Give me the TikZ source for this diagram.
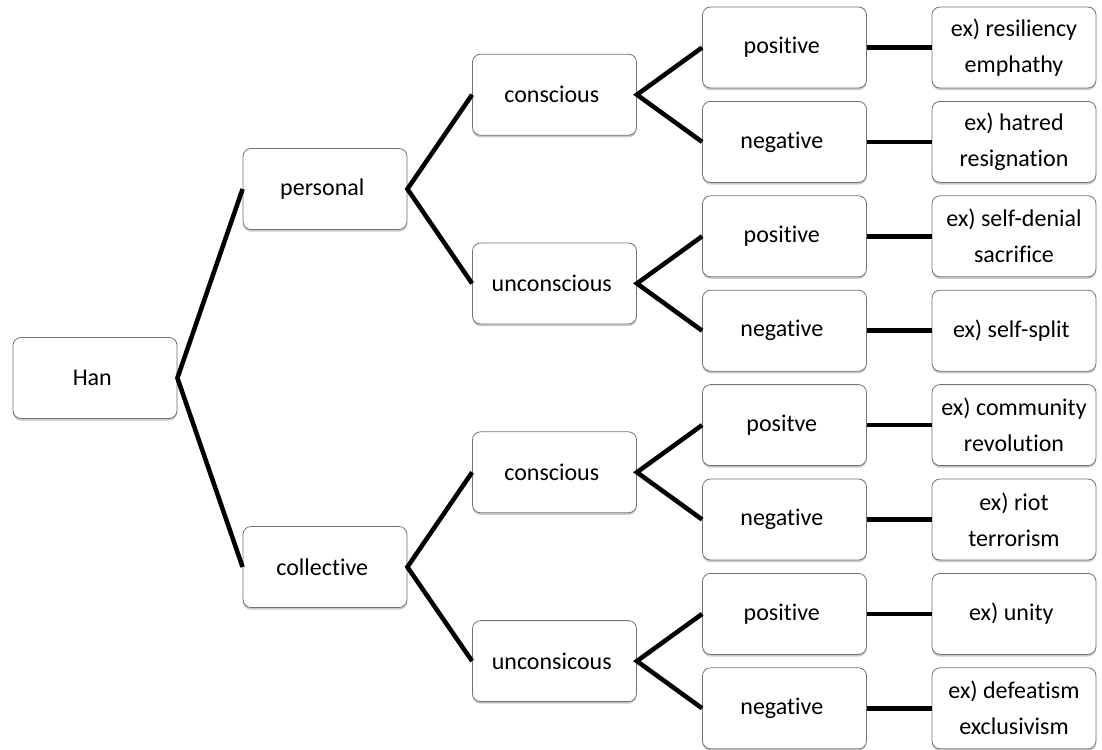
\documentclass[tikz,border=0pt]{standalone}
\usepackage{fontspec}
\setmainfont[Ligatures=NoCommon]{Carlito}
\usetikzlibrary{positioning,shadows}

\tikzset{
  box/.style={draw=black!55, line width=0.6pt, fill=white, rounded corners=6pt,
    minimum width=123pt, minimum height=60.75pt, align=center,
    font=\fontsize{18}{27}\selectfont,
    drop shadow={shadow xshift=0pt, shadow yshift=-1.6pt, opacity=0.35, fill=black!60}},
  link/.style={line width=3.4pt, line join=miter}
}

\begin{document}
\begin{tikzpicture}[x=0.75pt,y=-0.75pt]
  \useasboundingbox (0,0) rectangle (1102,749);

  \node [box] (han) at (95,378) { Han };

  \node [box] (pers) at (325,189) { personal };
  \node [box] (coll) at (325,567) { collective };

  \node [box] (pcon) at (554.5,94.7) { conscious };
  \node [box] (punc) at (554.5,283.5) { unconscious };
  \node [box] (ccon) at (554.5,472.3) { conscious };
  \node [box] (cunc) at (554.5,661.1) { unconsicous };

  \node [box] (pcp) at (784.5,47.5) { positive };
  \node [box] (pcn) at (784.5,141.9) { negative };
  \node [box] (pup) at (784.5,236.3) { positive };
  \node [box] (pun) at (784.5,330.7) { negative };
  \node [box] (ccp) at (784.5,425.1) { positve };
  \node [box] (ccn) at (784.5,519.5) { negative };
  \node [box] (cup) at (784.5,613.9) { positive };
  \node [box] (cun) at (784.5,708.3) { negative };

  \node [box] (expcp) at (1014,47.5) { ex) resiliency\\emphathy };
  \node [box] (expcn) at (1014,141.9) { ex) hatred\\resignation };
  \node [box] (expup) at (1014,236.3) { ex) self-denial\\sacrifice };
  \node [box] (expun) at (1014,330.7) { ex) self-split };
  \node [box] (exccp) at (1014,425.1) { ex) community\\revolution };
  \node [box] (exccn) at (1014,519.5) { ex) riot\\terrorism };
  \node [box] (excup) at (1014,613.9) { ex) unity };
  \node [box] (excun) at (1014,708.3) { ex) defeatism\\exclusivism };

  \draw [link] (pers.west) -- (han.east) -- (coll.west);
  \draw [link] (pcon.west) -- (pers.east) -- (punc.west);
  \draw [link] (ccon.west) -- (coll.east) -- (cunc.west);
  \draw [link] (pcp.west) -- (pcon.east) -- (pcn.west);
  \draw [link] (pup.west) -- (punc.east) -- (pun.west);
  \draw [link] (ccp.west) -- (ccon.east) -- (ccn.west);
  \draw [link] (cup.west) -- (cunc.east) -- (cun.west);

  \foreach \a/\b in {pcp/expcp, pcn/expcn, pup/expup, pun/expun,
                     ccp/exccp, ccn/exccn, cup/excup, cun/excun}
    \draw [link] (\a.east) -- (\b.west);
\end{tikzpicture}
\end{document}
